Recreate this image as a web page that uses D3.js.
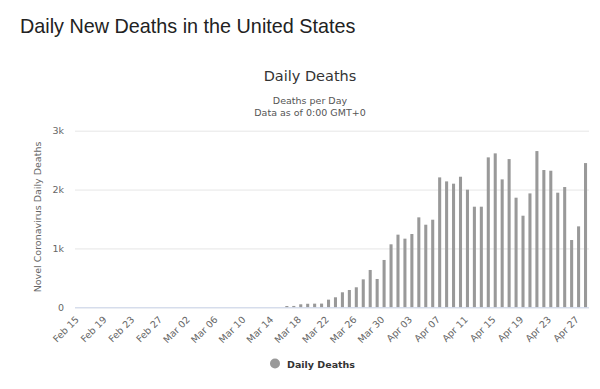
<!DOCTYPE html>
<html>
<head>
<meta charset="utf-8">
<script src="https://cdn.jsdelivr.net/npm/d3@7"></script>
<style>
  html, body { margin: 0; padding: 0; background: #fff; }
  svg { display: block; }
</style>
</head>
<body>
<svg id="chart" width="600" height="389"></svg>
<script>
const categories = [
  "Feb 15","Feb 16","Feb 17","Feb 18","Feb 19","Feb 20","Feb 21","Feb 22","Feb 23","Feb 24","Feb 25","Feb 26","Feb 27","Feb 28","Feb 29",
  "Mar 01","Mar 02","Mar 03","Mar 04","Mar 05","Mar 06","Mar 07","Mar 08","Mar 09","Mar 10","Mar 11","Mar 12","Mar 13","Mar 14","Mar 15",
  "Mar 16","Mar 17","Mar 18","Mar 19","Mar 20","Mar 21","Mar 22","Mar 23","Mar 24","Mar 25","Mar 26","Mar 27","Mar 28","Mar 29","Mar 30","Mar 31",
  "Apr 01","Apr 02","Apr 03","Apr 04","Apr 05","Apr 06","Apr 07","Apr 08","Apr 09","Apr 10","Apr 11","Apr 12","Apr 13","Apr 14","Apr 15",
  "Apr 16","Apr 17","Apr 18","Apr 19","Apr 20","Apr 21","Apr 22","Apr 23","Apr 24","Apr 25","Apr 26","Apr 27","Apr 28"
];
const dailyDeaths = [
  0,0,0,0,0,0,0,0,0,0,0,0,0,0,0,
  0,0,0,0,0,0,0,0,0,0,0,0,0,0,0,
  22,23,51,60,62,63,130,170,255,294,340,475,634,481,804,1070,
  1234,1166,1245,1528,1403,1488,2207,2139,2100,2218,1998,1709,1709,2547,
  2615,2173,2518,1862,1556,1935,2654,2332,2320,1947,2043,1143,1375,2450
];
const xTickLabels = ["Feb 15","Feb 19","Feb 23","Feb 27","Mar 02","Mar 06","Mar 10","Mar 14","Mar 18","Mar 22","Mar 26","Mar 30","Apr 03","Apr 07","Apr 11","Apr 15","Apr 19","Apr 23","Apr 27"];
const yTickValues = [0, 1000, 2000, 3000];
const yTickLabels = ["0", "1k", "2k", "3k"];

const svg = d3.select("#chart");
const font = "'DejaVu Sans', Verdana, sans-serif";

// Page heading
svg.append("text")
  .attr("x", 20).attr("y", 33)
  .attr("font-family", "'Liberation Sans', Arial, sans-serif")
  .attr("font-size", 19.8)
  .attr("fill", "#222")
  .text("Daily New Deaths in the United States");

// Chart title & subtitles
svg.append("text")
  .attr("x", 310).attr("y", 81)
  .attr("text-anchor", "middle")
  .attr("font-family", font).attr("font-size", 14.5)
  .attr("fill", "#333")
  .text("Daily Deaths");
svg.append("text")
  .attr("x", 310).attr("y", 104)
  .attr("text-anchor", "middle")
  .attr("font-family", font).attr("font-size", 9.5)
  .attr("fill", "#555")
  .text("Deaths per Day");
svg.append("text")
  .attr("x", 310).attr("y", 116)
  .attr("text-anchor", "middle")
  .attr("font-family", font).attr("font-size", 9.5)
  .attr("fill", "#555")
  .text("Data as of 0:00 GMT+0");

const x = d3.scaleBand().domain(categories).range([75, 589]).paddingInner(0.56).paddingOuter(0.28);
const y = d3.scaleLinear().domain([0, 3000]).range([307.3, 130.7]);

// Grid lines
const yAxis = d3.axisLeft(y).tickValues(yTickValues)
  .tickFormat((d, i) => yTickLabels[i]).tickSize(-514).tickPadding(10);
const gy = svg.append("g").attr("transform", "translate(75,0)").call(yAxis);
gy.select(".domain").remove();
gy.selectAll(".tick line").attr("stroke", "#e6e6e6").attr("stroke-width", 1);
gy.selectAll(".tick text").attr("font-family", font).attr("font-size", 9.5).attr("fill", "#666").attr("x", -11);

// Bars
svg.append("g").selectAll("rect").data(dailyDeaths).join("rect")
  .attr("x", (d, i) => x(categories[i]))
  .attr("width", x.bandwidth())
  .attr("y", d => y(d))
  .attr("height", d => y(0) - y(d))
  .attr("fill", "#999");

// X axis
const xAxis = d3.axisBottom(x).tickValues(xTickLabels).tickSize(0).tickPadding(0);
const gx = svg.append("g").attr("transform", "translate(0," + y(0) + ")").call(xAxis);
gx.select(".domain").attr("stroke", "#ccd6eb").attr("d", "M75,0.5H589");
gx.selectAll(".tick text")
  .attr("font-family", font).attr("font-size", 9.5)
  .attr("fill", "#666")
  .attr("text-anchor", "end")
  .attr("dy", null)
  .attr("y", 0)
  .attr("transform", "translate(1,13) rotate(-45)");

// Y axis title
svg.append("text")
  .attr("transform", "translate(41,217) rotate(-90)")
  .attr("text-anchor", "middle")
  .attr("font-family", font).attr("font-size", 9.5)
  .attr("fill", "#666")
  .text("Novel Coronavirus Daily Deaths");

// Legend
svg.append("circle").attr("cx", 275).attr("cy", 363.5).attr("r", 5).attr("fill", "#999");
svg.append("text")
  .attr("x", 287).attr("y", 367.5)
  .attr("font-family", font).attr("font-size", 9.5).attr("font-weight", "bold")
  .attr("fill", "#333")
  .text("Daily Deaths");
</script>
</body>
</html>
